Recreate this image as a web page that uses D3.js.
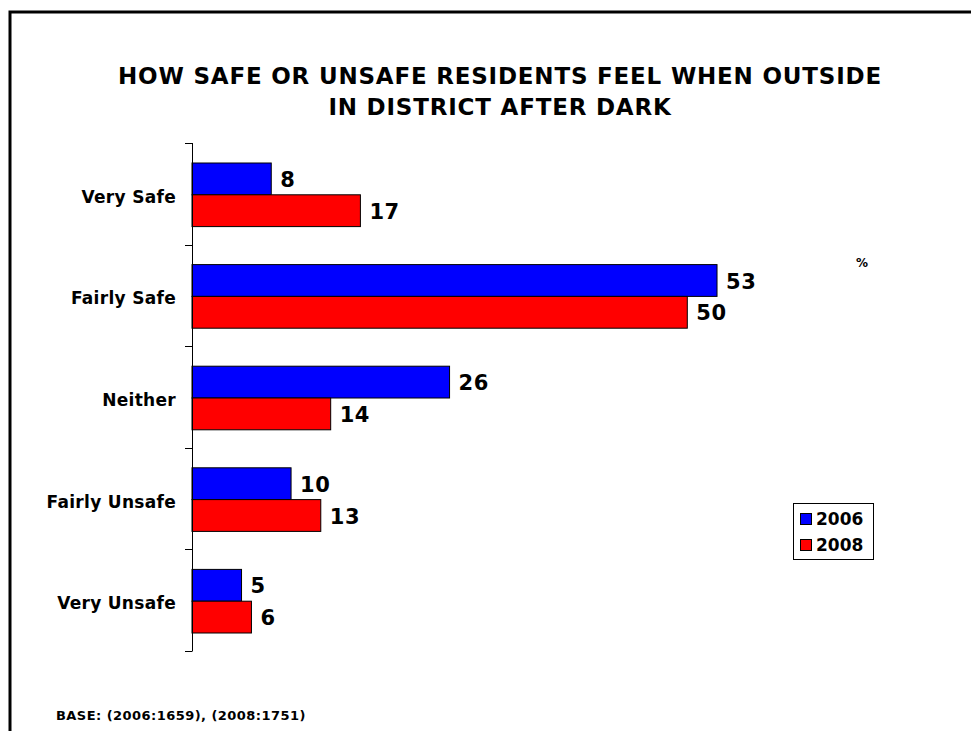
<!DOCTYPE html>
<html>
<head>
<meta charset="utf-8">
<script src="https://cdn.jsdelivr.net/npm/d3@7"></script>
<style>
  body { margin: 0; background: #fff; }
  text { font-family: "DejaVu Sans", Verdana, sans-serif; font-weight: bold; fill: #000; }
</style>
</head>
<body>
<svg id="chart" width="971" height="731"></svg>
<script>
const categories = ["Very Safe", "Fairly Safe", "Neither", "Fairly Unsafe", "Very Unsafe"];
const seriesNames = ["2006", "2008"];
const values2006 = [8, 53, 26, 10, 5];
const values2008 = [17, 50, 14, 13, 6];
const colors = ["#0000FF", "#FF0000"];
const titleLines = ["HOW SAFE OR UNSAFE RESIDENTS FEEL WHEN OUTSIDE", "IN DISTRICT AFTER DARK"];
const baseNote = "BASE: (2006:1659), (2008:1751)";

const svg = d3.select("#chart");

// frame (left + top)
svg.append("path").attr("d", "M10,731 V12 H971").attr("fill", "none").attr("stroke", "#000").attr("stroke-width", 3);

// title
titleLines.forEach((t, i) => {
  svg.append("text").attr("x", 500).attr("y", 84 + i * 31).attr("text-anchor", "middle")
    .style("font-size", "23px").style("letter-spacing", "0.8px").text(t);
});

const x = d3.scaleLinear().domain([0, 60]).range([192, 192 + 60 * 9.906]);
const y = d3.scaleBand().domain(categories).range([143, 651]).paddingInner(0).paddingOuter(0);
const inner = d3.scaleBand().domain(seriesNames).range([20, y.bandwidth() - 18]);

const data = categories.map((c, i) => ({ c, v: [values2006[i], values2008[i]] }));

const g = svg.append("g");
data.forEach(d => {
  seriesNames.forEach((s, j) => {
    const yy = y(d.c) + inner(s);
    g.append("rect").attr("x", x(0)).attr("y", yy)
      .attr("width", x(d.v[j]) - x(0)).attr("height", inner.bandwidth())
      .attr("fill", colors[j]).attr("stroke", "#000").attr("stroke-width", 1);
    g.append("text").attr("x", x(d.v[j]) + 9).attr("y", yy + inner.bandwidth() / 2 + 8)
      .style("font-size", "21px").style("letter-spacing", "0.5px").text(d.v[j]);
  });
});

// y axis
svg.append("line").attr("x1", 192.5).attr("x2", 192.5).attr("y1", 143).attr("y2", 651).attr("stroke", "#000").attr("stroke-width", 1);
const tickYs = categories.map(c => y(c)).concat([y(categories[categories.length - 1]) + y.bandwidth()]);
svg.selectAll(".tk").data(tickYs).enter().append("line")
  .attr("x1", 185).attr("x2", 192.5).attr("y1", d => Math.round(d) + 0.5).attr("y2", d => Math.round(d) + 0.5)
  .attr("stroke", "#000").attr("stroke-width", 1);

svg.selectAll(".cat").data(categories).enter().append("text")
  .attr("x", 176).attr("y", d => y(d) + 20 + (y.bandwidth() - 38) / 2 + 8)
  .attr("text-anchor", "end").style("font-size", "17px").style("letter-spacing", "0.3px").text(d => d);

// percent sign
svg.append("text").attr("x", 862).attr("y", 267).attr("text-anchor", "middle").style("font-size", "12px").text("%");

// legend
const lg = svg.append("g");
lg.append("rect").attr("x", 793.5).attr("y", 503.5).attr("width", 80).attr("height", 56)
  .attr("fill", "#fff").attr("stroke", "#000").attr("stroke-width", 1);
seriesNames.forEach((s, j) => {
  const yy = 513 + j * 26;
  lg.append("rect").attr("x", 800.5).attr("y", yy + 0.5).attr("width", 11).attr("height", 11)
    .attr("fill", colors[j]).attr("stroke", "#000").attr("stroke-width", 1);
  lg.append("text").attr("x", 816).attr("y", yy + 12).style("font-size", "17px").text(s);
});

// base note
svg.append("text").attr("x", 56).attr("y", 720).style("font-size", "13px").style("letter-spacing", "0.45px").text(baseNote);
</script>
</body>
</html>
